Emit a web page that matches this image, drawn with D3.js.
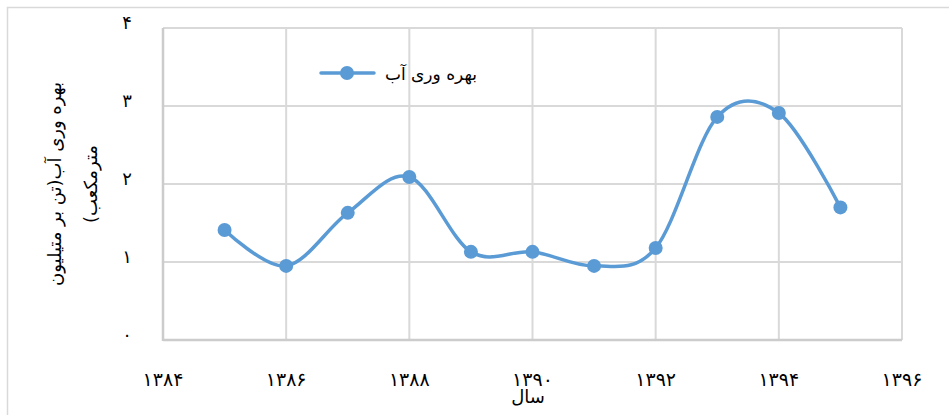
<!DOCTYPE html>
<html>
<head>
<meta charset="utf-8">
<script src="https://cdn.jsdelivr.net/npm/d3@7"></script>
<style>
  body { margin: 0; background: #fff; }
  text { font-family: "DejaVu Sans", sans-serif; fill: #000; }
</style>
</head>
<body>
<div id="chart"></div>
<script>
// years and water productivity values
var years = [1385, 1386, 1387, 1388, 1389, 1390, 1391, 1392, 1393, 1394, 1395];
var values = [1.41, 0.95, 1.63, 2.09, 1.13, 1.13, 0.95, 1.18, 2.86, 2.91, 1.70];
var xTicks = [1384, 1386, 1388, 1390, 1392, 1394, 1396];
var yTicks = [0, 1, 2, 3, 4];
var seriesName = "بهره وری آب";
var xTitle = "سال";
var yTitleLines = ["بهره وری آب(تن بر متیلیون", "مترمکعب)"];

var toFa = function (n) {
  return String(n).replace(/[0-9]/g, function (d) { return "۰۱۲۳۴۵۶۷۸۹"[+d]; });
};

var W = 949, H = 415;
var svg = d3.select("#chart").append("svg").attr("width", W).attr("height", H);

// outer chart frame
svg.append("rect")
  .attr("x", 7.5).attr("y", 7.5)
  .attr("width", W + 20).attr("height", H + 20)
  .attr("fill", "none").attr("stroke", "#d9d9d9").attr("stroke-width", 1.5);

var x = d3.scaleLinear().domain([1384, 1396]).range([163, 902]);
var y = d3.scaleLinear().domain([0, 4]).range([340, 28]);

// grid
svg.selectAll(".hgrid").data(yTicks).enter().append("line")
  .attr("x1", x(1384)).attr("x2", x(1396))
  .attr("y1", function (d) { return y(d); })
  .attr("y2", function (d) { return y(d); })
  .attr("stroke", "#d9d9d9").attr("stroke-width", 2);

svg.selectAll(".vgrid").data(xTicks).enter().append("line")
  .attr("x1", function (d) { return x(d); })
  .attr("x2", function (d) { return x(d); })
  .attr("y1", y(0)).attr("y2", y(4))
  .attr("stroke", "#d9d9d9").attr("stroke-width", 2);

// axis lines, a touch darker
svg.append("line").attr("x1", x(1384)).attr("x2", x(1384)).attr("y1", y(0) + 1).attr("y2", y(4))
  .attr("stroke", "#cccccc").attr("stroke-width", 2.5);
svg.append("line").attr("x1", x(1384)).attr("x2", x(1396)).attr("y1", y(0)).attr("y2", y(0))
  .attr("stroke", "#cccccc").attr("stroke-width", 2.5);

// tick labels
svg.selectAll(".ylab").data(yTicks).enter().append("text")
  .attr("x", 127)
  .attr("y", function (d) { return y(d) - 4; })
  .attr("text-anchor", "middle")
  .attr("dominant-baseline", "middle")
  .style("font-size", "18px")
  .text(function (d) { return toFa(d); });

svg.selectAll(".xlab").data(xTicks).enter().append("text")
  .attr("x", function (d) { return x(d); })
  .attr("y", 386)
  .attr("text-anchor", "middle")
  .style("font-size", "19px")
  .text(function (d) { return toFa(d); });

// axis titles
svg.append("text")
  .attr("x", 528).attr("y", 403)
  .attr("text-anchor", "middle")
  .style("font-size", "18px")
  .text(xTitle);

var yt = svg.append("text")
  .attr("transform", "translate(61," + ((y(0) + y(4)) / 2) + ") rotate(-90)")
  .attr("text-anchor", "middle")
  .attr("direction", "rtl")
  .style("font-size", "18px");
yt.selectAll("tspan").data(yTitleLines).enter().append("tspan")
  .attr("x", 0)
  .attr("dy", function (d, i) { return i === 0 ? 0 : 36; })
  .text(function (d) { return d; });

// smoothed line
var line = d3.line()
  .x(function (d, i) { return x(years[i]); })
  .y(function (d) { return y(d); })
  .curve(d3.curveCardinal.tension(0));

svg.append("path")
  .datum(values)
  .attr("d", line)
  .attr("fill", "none")
  .attr("stroke", "#5b9bd5")
  .attr("stroke-width", 3.5)
  .attr("stroke-linecap", "round");

svg.selectAll(".pt").data(values).enter().append("circle")
  .attr("cx", function (d, i) { return x(years[i]); })
  .attr("cy", function (d) { return y(d); })
  .attr("r", 7)
  .attr("fill", "#5b9bd5");

// legend
var lg = svg.append("g");
lg.append("line").attr("x1", 321).attr("x2", 374).attr("y1", 73).attr("y2", 73)
  .attr("stroke", "#5b9bd5").attr("stroke-width", 3.5).attr("stroke-linecap", "round");
lg.append("circle").attr("cx", 347).attr("cy", 73).attr("r", 7).attr("fill", "#5b9bd5");
lg.append("text")
  .attr("x", 477).attr("y", 80)
  .attr("text-anchor", "start")
  .attr("direction", "rtl")
  .style("font-size", "17px")
  .text(seriesName);
</script>
</body>
</html>
